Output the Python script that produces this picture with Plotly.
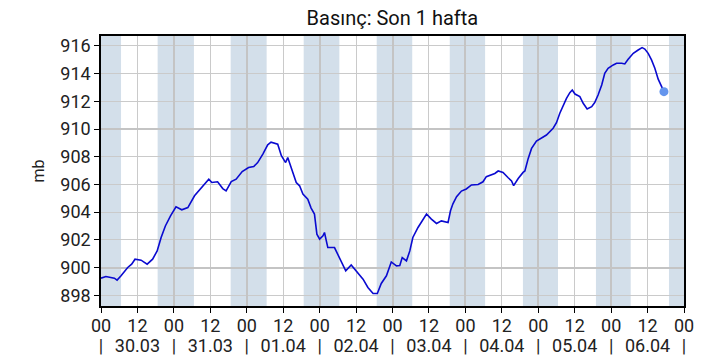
import pandas as pd
import plotly.graph_objects as go

# ---- data ----
start = pd.Timestamp("2025-03-30 00:00")
hours = [0, 1.6, 4.4, 5.3, 6.6, 8.8, 10.1, 11.2, 13.2, 15.2,
         17.0, 18.5, 19.8, 21.2, 22.9, 24.7, 26.6, 28.6, 30.8, 33.0,
         35.5, 36.5, 38.4, 40.1, 41.2, 42.9, 44.5, 46.5, 48.6, 50.3,
         51.6, 53.3, 54.9, 56.0, 58.2, 59.4, 60.8, 61.5, 62.6, 64.3,
         65.4, 66.5, 68.1, 69.2, 70.3, 71.1, 72.0, 73.1, 73.6, 74.7,
         76.9, 78.6, 80.6, 82.4, 84.1, 86.3, 87.9, 89.6, 91.0, 92.3,
         94.0, 95.6, 97.3, 98.4, 99.2, 100.6, 101.7, 102.7, 104.4, 106.6,
         107.2, 108.8, 110.5, 112.1, 114.3, 115.1, 115.9, 117.1, 118.7, 120.3,
         122.0, 124.2, 125.8, 126.9, 128.6, 129.7, 130.8, 132.4, 134.1, 135.2,
         135.9, 137.4, 139.0, 139.6, 140.7, 141.8, 143.4, 145.1, 146.7, 148.9,
         150.0, 151.1, 152.2, 153.3, 154.4, 155.2, 156.1, 157.7, 158.8, 160.1,
         161.6, 162.6, 163.7, 164.9, 165.9, 167.0, 168.7, 169.8, 171.5, 172.5,
         173.6, 175.3, 176.9, 178.2, 179.1, 180.2, 181.3, 182.4, 183.5, 184.6,
         185.4]
pressure = [899.23, 899.35, 899.23, 899.09, 899.4, 900.0, 900.24, 900.6, 900.53, 900.24,
            900.6, 901.2, 902.17, 903.0, 903.73, 904.38, 904.17, 904.33, 905.18, 905.78,
            906.38, 906.14, 906.19, 905.7, 905.54, 906.2, 906.38, 906.93, 907.22, 907.29,
            907.58, 908.19, 908.86, 909.05, 908.91, 908.07, 907.58, 907.94, 907.22, 906.14,
            905.9, 905.3, 904.94, 904.29, 903.86, 902.41, 902.05, 902.29, 902.53, 901.44,
            901.44, 900.72, 899.76, 900.19, 899.76, 899.16, 898.56, 898.12, 898.12, 898.85,
            899.4, 900.4, 900.12, 900.15, 900.72, 900.48, 901.2, 902.17, 902.89, 903.73,
            903.86, 903.5, 903.18, 903.37, 903.25, 904.1, 904.6, 905.11, 905.52, 905.67,
            905.96, 906.0, 906.19, 906.56, 906.68, 906.79, 906.97, 906.87, 906.48, 906.25,
            905.91, 906.43, 906.87, 906.97, 907.88, 908.6, 909.13, 909.37, 909.57, 910.06,
            910.46, 911.14, 911.74, 912.22, 912.63, 912.82, 912.53, 912.34, 911.86, 911.45,
            911.62, 911.91, 912.46, 913.18, 914.03, 914.39, 914.63, 914.75, 914.75, 914.7,
            915.04, 915.47, 915.71, 915.88, 915.78, 915.47, 914.99, 914.39, 913.6, 913.06,
            912.7]

day_labels = ["30.03", "31.03", "01.04", "02.04", "03.04", "04.04", "05.04", "06.04"]
sunrise_h = [6.6, 6.6, 6.55, 6.5, 6.5, 6.5, 6.5, 6.45]
sunset_h = [18.65, 18.7, 18.75, 18.8, 18.85, 18.95, 19.0, 19.05]
y_ticks = [898, 900, 902, 904, 906, 908, 910, 912, 914, 916]

times = [start + pd.Timedelta(hours=h) for h in hours]
n_days = len(day_labels)
end = start + pd.Timedelta(days=n_days)

# row 1: hours; row 2: "|" at midnight, date at noon
tickvals, hour_text, date_text = [], [], []
for d, lab in enumerate(day_labels):
    tickvals.append(start + pd.Timedelta(days=d))
    hour_text.append("00")
    date_text.append("|")
    tickvals.append(start + pd.Timedelta(days=d, hours=12))
    hour_text.append("12")
    date_text.append(lab)
tickvals.append(end)
hour_text.append("00")
date_text.append("|")

# night shading
shapes = []
shapes.append(dict(type="rect", xref="x", yref="paper",
                   x0=start, x1=start + pd.Timedelta(hours=sunrise_h[0]),
                   y0=0, y1=1, fillcolor="#d3dfea", line=dict(width=0), layer="below"))
for d in range(n_days):
    x0 = start + pd.Timedelta(days=d, hours=sunset_h[d])
    if d + 1 < n_days:
        x1 = start + pd.Timedelta(days=d + 1, hours=sunrise_h[d + 1])
    else:
        x1 = end
    shapes.append(dict(type="rect", xref="x", yref="paper", x0=x0, x1=x1,
                       y0=0, y1=1, fillcolor="#d3dfea", line=dict(width=0), layer="below"))

LINE = "#0a0ad0"
fig = go.Figure()
# invisible traces on overlay axes (thick grid / date row)
fig.add_trace(go.Scatter(x=times, y=pressure, xaxis="x2", yaxis="y2",
                         mode="lines", line=dict(width=0), opacity=0,
                         hoverinfo="skip", showlegend=False))
fig.add_trace(go.Scatter(x=times, y=pressure, xaxis="x3", yaxis="y",
                         mode="lines", line=dict(width=0), opacity=0,
                         hoverinfo="skip", showlegend=False))
fig.add_trace(go.Scatter(x=times, y=pressure, mode="lines",
                         line=dict(color=LINE, width=1.6), showlegend=False))
fig.add_trace(go.Scatter(x=[times[-1]], y=[pressure[-1]], mode="markers",
                         marker=dict(color="#6495ED", size=9), showlegend=False))

yr = [897.22, 916.72]
font = "Roboto, 'Open Sans', sans-serif"
fig.update_layout(
    width=720, height=360,
    margin=dict(l=101, r=36, t=36, b=54),
    paper_bgcolor="white", plot_bgcolor="white",
    font=dict(family=font, color="#222222", size=18),
    title=dict(text="Basınç: Son 1 hafta", x=0.545, xanchor="center",
               y=0.95, yanchor="middle", font=dict(size=20, color="#111111")),
    shapes=shapes,
    xaxis=dict(type="date", range=[start, end], tickmode="array",
               tickvals=tickvals, ticktext=hour_text, automargin=False,
               showgrid=True, gridcolor="#cacaca", gridwidth=1,
               showline=True, linecolor="black", linewidth=1.5, mirror=True,
               ticks="outside", ticklen=5, tickcolor="black",
               ticklabelstandoff=-2,
               tickfont=dict(size=18), zeroline=False),
    xaxis3=dict(type="date", range=[start, end], overlaying="x", side="bottom",
                anchor="y", tickmode="array", tickvals=tickvals,
                ticktext=date_text, automargin=False, showgrid=False,
                showline=False, ticks="outside", ticklen=5,
                tickcolor="rgba(0,0,0,0)", ticklabelstandoff=18,
                tickfont=dict(size=18), zeroline=False),
    yaxis=dict(range=yr, tickmode="array", tickvals=y_ticks, automargin=False,
               showgrid=True, gridcolor="#cacaca", gridwidth=1,
               showline=True, linecolor="black", linewidth=1.5, mirror=True,
               ticks="outside", ticklen=5, tickcolor="black",
               tickfont=dict(size=18), zeroline=False,
               title=dict(text="mb", font=dict(size=16), standoff=12)),
    xaxis2=dict(type="date", range=[start, end], overlaying="x",
                dtick=86400000, tick0=start, showticklabels=False,
                showgrid=True, gridcolor="#c4c4c4", gridwidth=2,
                showline=False, ticks="", zeroline=False),
    yaxis2=dict(range=yr, overlaying="y", dtick=10, tick0=900,
                showticklabels=False, showgrid=True, gridcolor="#c4c4c4",
                gridwidth=2, showline=False, ticks="", zeroline=False),
)

fig.write_html("out.html")
